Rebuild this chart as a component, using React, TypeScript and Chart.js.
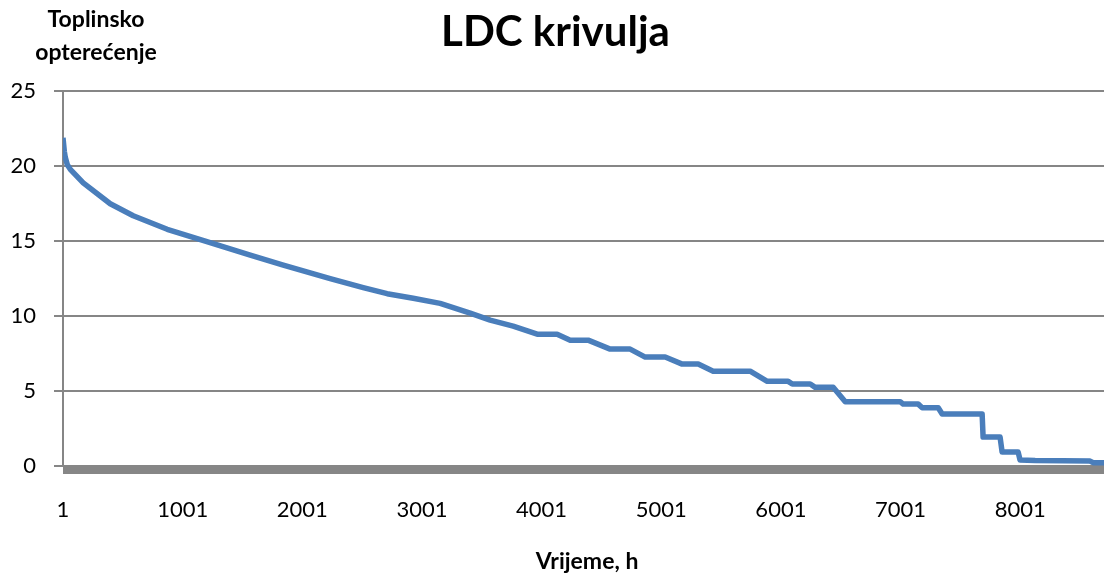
import React, { useEffect, useRef } from 'react';
import { Chart, registerables } from 'chart.js';

Chart.register(...registerables);

const chartTitle = 'LDC krivulja';
const yTitleLines = ['Toplinsko', 'opterećenje'];
const xTitle = 'Vrijeme, h';
const yTicks = [0, 5, 10, 15, 20, 25];
const xTickLabels = [1, 1001, 2001, 3001, 4001, 5001, 6001, 7001, 8001];

// Hours (sorted load duration) and heat load
const hours = [
  1, 12, 20, 37, 62, 170, 396, 588, 872, 1190, 1566, 1842, 2234, 2510, 2710,
  2928, 3153, 3404, 3571, 3763, 3964, 4131, 4240, 4390, 4574, 4741, 4867, 5034,
  5176, 5310, 5435, 5744, 5887, 6062, 6096, 6246, 6288, 6438, 6539, 6998, 7023,
  7149, 7182, 7316, 7349, 7683, 7691, 7833, 7850, 7984, 8000, 8126, 8585, 8610,
  8760,
];
const load = [
  21.9, 21.0, 20.6, 20.1, 19.8, 18.9, 17.5, 16.7, 15.8, 15.0, 14.07, 13.4, 12.5,
  11.9, 11.5, 11.2, 10.85, 10.2, 9.73, 9.33, 8.8, 8.8, 8.4, 8.4, 7.8, 7.8, 7.27,
  7.27, 6.8, 6.8, 6.33, 6.33, 5.65, 5.65, 5.47, 5.47, 5.25, 5.25, 4.29, 4.29,
  4.13, 4.13, 3.89, 3.89, 3.47, 3.47, 1.93, 1.93, 0.93, 0.93, 0.4, 0.36, 0.33,
  0.22, 0.22,
];

const GRAY = '#868686';
const FONT = 'Lato';

export default function App() {
  const ref = useRef<HTMLCanvasElement>(null);

  useEffect(() => {
    if (!ref.current) return;
    const decorPlugin = {
      id: 'decor',
      beforeDatasetsDraw(chart: any) {
        // thick horizontal axis band just below the zero line
        const { ctx, chartArea } = chart;
        ctx.save();
        ctx.fillStyle = GRAY;
        ctx.fillRect(chartArea.left, chartArea.bottom, chartArea.right - chartArea.left, 8);
        ctx.restore();
      },
      afterDraw(chart: any) {
        const { ctx, chartArea } = chart;
        ctx.save();
        ctx.font = `bold 23px ${FONT}`;
        ctx.fillStyle = '#000';
        ctx.textAlign = 'center';
        ctx.textBaseline = 'middle';
        yTitleLines.forEach((t, i) => {
          ctx.fillText(t, chartArea.left + 33, 20 + i * 33);
        });
        ctx.restore();
      },
    };

    const chart = new Chart(ref.current, {
      type: 'line',
      data: {
        datasets: [
          {
            data: hours.map((h, i) => ({ x: h, y: load[i] })),
            borderColor: '#4A7EBB',
            backgroundColor: '#4A7EBB',
            borderWidth: 5.5,
            pointRadius: 0,
            tension: 0,
            fill: false,
            borderJoinStyle: 'round',
          },
        ],
      },
      options: {
        animation: false,
        responsive: true,
        maintainAspectRatio: false,
        layout: { padding: { left: 0, right: 5, top: 0, bottom: 0 } },
        plugins: {
          legend: { display: false },
          tooltip: { enabled: false },
          title: {
            display: true,
            text: chartTitle,
            color: '#000',
            font: { family: FONT, size: 42, weight: 'bold' },
            padding: { top: 7, bottom: 34 },
          },
        },
        scales: {
          x: {
            type: 'linear',
            min: 1,
            max: 8760,
            afterBuildTicks(scale: any) {
              scale.ticks = xTickLabels.map((v) => ({ value: v }));
            },
            afterFit(scale: any) {
              scale.height = 113;
            },
            grid: { display: false, drawTicks: false },
            border: { display: false },
            ticks: {
              color: '#000',
              font: { family: FONT, size: 22 },
              padding: 31,
              maxRotation: 0,
              autoSkip: false,
              callback: (v: any) => String(v),
            },
            title: {
              display: true,
              text: xTitle,
              color: '#000',
              font: { family: FONT, size: 23, weight: 'bold' },
              padding: { top: 0, bottom: 4 },
            },
          },
          y: {
            min: 0,
            max: 25,
            afterBuildTicks(scale: any) {
              scale.ticks = yTicks.map((v) => ({ value: v }));
            },
            afterFit(scale: any) {
              scale.width = 63;
            },
            grid: {
              color: GRAY,
              lineWidth: 2,
              drawTicks: true,
              tickLength: 9,
            },
            border: { display: true, color: GRAY, width: 2 },
            ticks: {
              color: '#000',
              font: { family: FONT, size: 22 },
              padding: 18,
              callback: (v: any) => String(v),
            },
          },
        },
      },
      plugins: [decorPlugin],
    } as any);

    return () => chart.destroy();
  }, []);

  return (
    <div
      style={{
        position: 'fixed',
        left: 0,
        top: 0,
        width: 1104,
        height: 579,
        overflow: 'hidden',
        background: '#fff',
      }}
    >
      <div style={{ position: 'relative', width: 1116, height: 579 }}>
        <canvas ref={ref} />
      </div>
    </div>
  );
}
